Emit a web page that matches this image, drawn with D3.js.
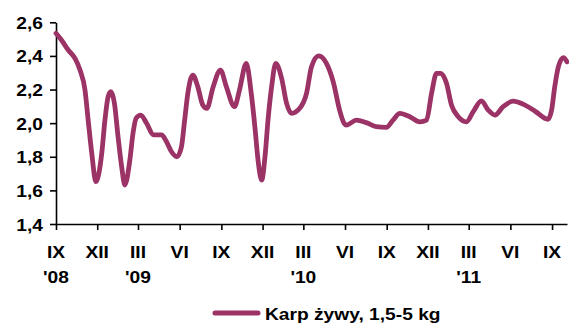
<!DOCTYPE html>
<html>
<head>
<meta charset="utf-8">
<script src="https://cdn.jsdelivr.net/npm/d3@7"></script>
<style>
  html, body { margin: 0; padding: 0; background: #fff; }
  svg { display: block; }
  .lbl { font-family: "Liberation Sans", Arial, sans-serif; font-weight: bold; font-size: 16px; fill: #000; }
</style>
</head>
<body>
<svg id="chart" width="569" height="324"></svg>
<script>
// Price of live carp, 1.5-5 kg (PLN/kg), observations Sep 2008 - Oct 2011
const dates = [
  "2008-09-01","2008-09-13","2008-09-28","2008-10-13","2008-10-24","2008-11-04","2008-11-11","2008-11-19",
  "2008-11-28","2008-12-11","2008-12-18","2008-12-25","2008-12-31","2009-01-08","2009-01-16","2009-01-24",
  "2009-01-31","2009-02-11","2009-02-18","2009-02-25","2009-03-07","2009-03-20","2009-04-04","2009-04-22",
  "2009-05-03","2009-05-14","2009-05-26","2009-06-05","2009-06-12","2009-06-19","2009-06-30","2009-07-11",
  "2009-07-22","2009-07-31","2009-08-14","2009-08-30","2009-09-12","2009-09-30","2009-10-11","2009-10-26",
  "2009-11-06","2009-11-14","2009-11-21","2009-11-29","2009-12-07","2009-12-13","2009-12-21","2009-12-30",
  "2010-01-12","2010-01-23","2010-02-03","2010-02-21","2010-03-08","2010-03-19","2010-04-04","2010-04-21",
  "2010-05-06","2010-05-20","2010-05-30","2010-06-04","2010-06-26","2010-07-18","2010-08-09","2010-08-31",
  "2010-09-15","2010-09-30","2010-10-22","2010-11-13","2010-11-28","2010-12-09","2010-12-20","2010-12-29",
  "2011-01-11","2011-01-22","2011-02-06","2011-02-24","2011-03-11","2011-03-29","2011-04-13","2011-04-28",
  "2011-05-16","2011-06-07","2011-06-29","2011-07-26","2011-08-23","2011-08-31","2011-09-07","2011-09-15",
  "2011-09-26","2011-10-04"
];
const prices = [
  2.535, 2.495, 2.435, 2.385, 2.316, 2.197, 2.018, 1.820,
  1.652, 1.820, 2.018, 2.157, 2.187, 2.118, 1.919, 1.740,
  1.632, 1.780, 1.940, 2.030, 2.048, 1.999, 1.930, 1.930,
  1.889, 1.830, 1.800, 1.860, 2.018, 2.177, 2.286, 2.217,
  2.108, 2.088, 2.217, 2.316, 2.217, 2.098, 2.197, 2.356,
  2.177, 1.979, 1.780, 1.661, 1.820, 2.018, 2.217, 2.356,
  2.267, 2.118, 2.058, 2.088, 2.177, 2.336, 2.400, 2.356,
  2.246, 2.078, 1.999, 1.989, 2.018, 2.003, 1.979, 1.975,
  2.018, 2.058, 2.038, 2.008, 2.018, 2.177, 2.296, 2.296,
  2.237, 2.108, 2.038, 2.008, 2.068, 2.133, 2.078, 2.048,
  2.098, 2.131, 2.113, 2.070, 2.023, 2.078, 2.217, 2.336,
  2.390, 2.365
];

// Quarterly axis ticks
const tickDates = [
  "2008-09-01","2008-12-01","2009-03-01","2009-06-01","2009-09-01","2009-12-01","2010-03-01",
  "2010-06-01","2010-09-01","2010-12-01","2011-03-01","2011-06-01","2011-09-01"
];
const monthLabels = ["IX","XII","III","VI","IX","XII","III","VI","IX","XII","III","VI","IX"];
const yearLabels  = ["'08","","'09","","","","'10","","","","'11","",""];
const yTicks = [1.4, 1.6, 1.8, 2.0, 2.2, 2.4, 2.6];
const seriesName = "Karp żywy, 1,5-5 kg";

const parse = d3.timeParse("%Y-%m-%d");
const data = dates.map((d, i) => ({ date: parse(d), value: prices[i] }));

const svg = d3.select("#chart");
const plotLeft = 56, plotRight = 567, plotTop = 22.3, plotBottom = 224;
const lineColor = "#9B3366";
const stretch = 1.2;

const x = d3.scaleTime()
  .domain([parse("2008-09-01"), parse("2011-10-04")])
  .range([plotLeft, plotRight]);
const y = d3.scaleLinear().domain([1.4, 2.6]).range([plotBottom, plotTop]);

// Axes (lines and tick marks only; labels are set separately)
const yAxis = svg.append("g")
  .attr("transform", `translate(${plotLeft},0)`)
  .call(d3.axisLeft(y).tickValues(yTicks).tickSize(6).tickSizeOuter(0).tickFormat(""));
const xAxis = svg.append("g")
  .attr("transform", `translate(0,${plotBottom})`)
  .call(d3.axisBottom(x).tickValues(tickDates.map(parse)).tickSize(6).tickSizeOuter(0).tickFormat(""));
[yAxis, xAxis].forEach(g => {
  g.selectAll("path.domain").attr("stroke", "#000").attr("stroke-width", 1.6);
  g.selectAll(".tick line").attr("stroke", "#000").attr("stroke-width", 1.6);
});

// Y tick labels
svg.append("g").selectAll("text")
  .data(yTicks)
  .join("text")
  .attr("class", "lbl")
  .attr("text-anchor", "end")
  .attr("transform", d => `translate(43,${y(d) + 6.5}) scale(${stretch},1)`)
  .text(d => d.toFixed(1).replace(".", ","));

// X tick labels: month and year rows
svg.append("g").selectAll("text")
  .data(tickDates)
  .join("text")
  .attr("class", "lbl")
  .attr("text-anchor", "middle")
  .attr("transform", d => `translate(${x(parse(d))},258.3) scale(${stretch},1)`)
  .text((d, i) => monthLabels[i]);
svg.append("g").selectAll("text")
  .data(tickDates.filter((d, i) => yearLabels[i]))
  .join("text")
  .attr("class", "lbl")
  .attr("text-anchor", "middle")
  .attr("transform", d => `translate(${x(parse(d))},282.7) scale(${stretch},1)`)
  .text(d => yearLabels[tickDates.indexOf(d)]);

// Price line
const line = d3.line()
  .x(d => x(d.date))
  .y(d => y(d.value))
  .curve(d3.curveMonotoneX);
svg.append("path")
  .datum(data)
  .attr("d", line)
  .attr("fill", "none")
  .attr("stroke", lineColor)
  .attr("stroke-width", 4.8)
  .attr("stroke-linejoin", "round")
  .attr("stroke-linecap", "round");

// Legend
const legend = svg.append("g");
legend.append("line")
  .attr("x1", 215).attr("x2", 258).attr("y1", 313).attr("y2", 313)
  .attr("stroke", lineColor).attr("stroke-width", 5).attr("stroke-linecap", "round");
legend.append("text")
  .attr("class", "lbl")
  .attr("transform", `translate(265,320) scale(${stretch},1)`)
  .text(seriesName);
</script>
</body>
</html>
